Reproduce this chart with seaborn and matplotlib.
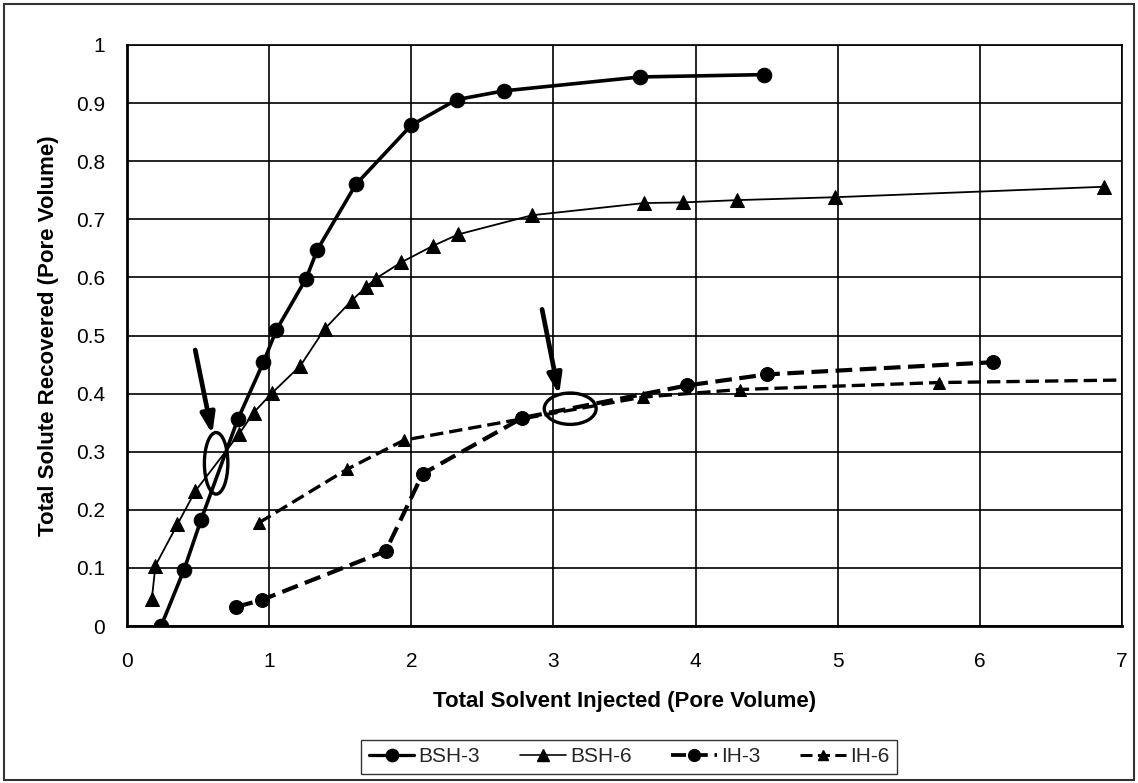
import numpy as np
import pandas as pd
import matplotlib
matplotlib.use("Agg")
import matplotlib.pyplot as plt
import seaborn as sns
from matplotlib.patches import Ellipse, Rectangle
from matplotlib.lines import Line2D

# ---- data ----
bsh3_x = [0.24, 0.40, 0.52, 0.78, 0.96, 1.05, 1.26, 1.34, 1.61, 2.00, 2.32, 2.65, 3.61, 4.48]
bsh3_y = [0.000, 0.096, 0.182, 0.356, 0.454, 0.509, 0.598, 0.648, 0.760, 0.862, 0.906, 0.921, 0.945, 0.949]

bsh6_x = [0.175, 0.20, 0.355, 0.48, 0.79, 0.89, 1.02, 1.22, 1.39, 1.58, 1.68, 1.75, 1.93, 2.15, 2.33, 2.85, 3.64, 3.91, 4.29, 4.98, 6.87]
bsh6_y = [0.047, 0.104, 0.175, 0.232, 0.331, 0.367, 0.401, 0.448, 0.511, 0.560, 0.583, 0.598, 0.626, 0.654, 0.674, 0.707, 0.728, 0.729, 0.733, 0.738, 0.756]

ih3_x = [0.77, 0.95, 1.82, 2.08, 2.78, 3.94, 4.50, 6.09]
ih3_y = [0.033, 0.045, 0.129, 0.262, 0.358, 0.414, 0.433, 0.454]

ih6_x = [0.93, 1.55, 1.95, 3.63, 4.31, 5.71, 7.20]
ih6_y = [0.178, 0.270, 0.320, 0.394, 0.407, 0.419, 0.424]

series_names = ["BSH-3", "BSH-6", "IH-3", "IH-6"]
x_ticks = [0, 1, 2, 3, 4, 5, 6, 7]
y_ticks = [0, 0.1, 0.2, 0.3, 0.4, 0.5, 0.6, 0.7, 0.8, 0.9, 1.0]
y_tick_labels = ["0", "0.1", "0.2", "0.3", "0.4", "0.5", "0.6", "0.7", "0.8", "0.9", "1"]

sns.set_theme(style="white")
plt.rcParams["font.family"] = ["Liberation Sans", "DejaVu Sans"]

fig = plt.figure(figsize=(11.38, 7.83), dpi=100)
ax = fig.add_axes([127/1138, 1 - 626/783, (1122-127)/1138, (626-45)/783])

DASH = (0, (4, 1.8))
styles = [
    dict(x=bsh3_x, y=bsh3_y, marker="o", lw=2.6, ms=10.5, ls="-"),
    dict(x=bsh6_x, y=bsh6_y, marker="^", lw=1.3, ms=9.5, ls="-"),
    dict(x=ih3_x, y=ih3_y, marker="o", lw=3.0, ms=10, ls=DASH),
    dict(x=ih6_x, y=ih6_y, marker="^", lw=2.4, ms=9, ls=DASH),
]

handles = []
for name, st in zip(series_names, styles):
    df = pd.DataFrame({"x": st["x"], "y": st["y"]})
    sns.lineplot(data=df, x="x", y="y", sort=False, ax=ax, estimator=None,
                 color="black", linewidth=st["lw"], marker=st["marker"],
                 markersize=st["ms"], markeredgecolor="black", markerfacecolor="black")
    line = ax.lines[-1]
    line.set_linestyle(st["ls"])
    handles.append(Line2D([], [], color="black", linewidth=st["lw"] * 0.9, linestyle=st["ls"],
                          marker=st["marker"], markersize=st["ms"] * 0.85,
                          markerfacecolor="black", markeredgecolor="black"))

ax.set_xlim(0, 7)
ax.set_ylim(0, 1)
ax.set_xticks(x_ticks)
ax.set_xticklabels([str(t) for t in x_ticks])
ax.set_yticks(y_ticks)
ax.set_yticklabels(y_tick_labels)
ax.grid(True, color="black", linewidth=1.2)
ax.set_axisbelow(True)
for s in ax.spines.values():
    s.set_color("black")
    s.set_linewidth(1.2)
ax.spines["left"].set_linewidth(2.0)
ax.spines["bottom"].set_linewidth(2.0)
ax.tick_params(axis="both", which="major", direction="out", length=6, width=1.2,
               color="black", labelsize=15, labelcolor="black", pad=10)
ax.tick_params(axis="x", pad=13)

ax.set_xlabel("Total Solvent Injected (Pore Volume)", fontsize=16, fontweight="bold",
              color="black", labelpad=14)
ax.set_ylabel("Total Solute Recovered (Pore Volume)", fontsize=16, fontweight="bold",
              color="black", labelpad=12)

# annotations: arrows and ellipses
ax.annotate("", xy=(0.60, 0.330), xytext=(0.48, 0.475),
            arrowprops=dict(arrowstyle="-|>,head_length=1.0,head_width=0.35",
                            color="black", lw=3.4, shrinkA=0, shrinkB=0))
ax.annotate("", xy=(3.04, 0.398), xytext=(2.92, 0.545),
            arrowprops=dict(arrowstyle="-|>,head_length=1.0,head_width=0.35",
                            color="black", lw=3.4, shrinkA=0, shrinkB=0))
ax.add_patch(Ellipse((0.627, 0.280), 0.165, 0.106, fill=False, edgecolor="black", lw=2.4))
ax.add_patch(Ellipse((3.118, 0.374), 0.365, 0.054, fill=False, edgecolor="black", lw=2.4))

leg = fig.legend(handles, series_names, loc="center", bbox_to_anchor=(629/1138, 1 - 757/783),
                 ncol=4, frameon=True, fontsize=15, handlelength=2.2, handletextpad=0.2,
                 columnspacing=1.9, borderpad=0.35, fancybox=False)
leg.get_frame().set_edgecolor("black")
leg.get_frame().set_linewidth(1.0)

# outer chart frame
fig.patches.append(Rectangle((4/1138, 3/783), 1130/1138, 776/783, transform=fig.transFigure,
                             fill=False, edgecolor="#333333", linewidth=1.5))

fig.savefig("out.png", dpi=100)
